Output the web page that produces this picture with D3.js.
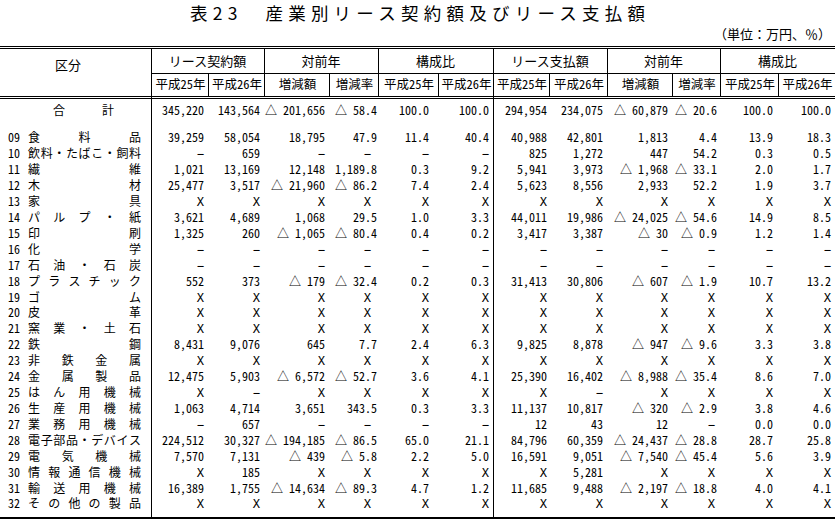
<!DOCTYPE html>
<html>
<head>
<meta charset="utf-8">
<title>表23 産業別リース契約額及びリース支払額</title>
<style>
  body { margin: 0; background: #fff; }
  svg text { font-family: "Noto Sans CJK JP", sans-serif; fill: #000; font-feature-settings: "hwid"; }
  .title { font-size: 17.5px; font-feature-settings: normal; }
  .unit { font-feature-settings: normal; }
  .head { font-size: 13px; }
  .sub { font-size: 12.5px; }
  .cell { font-size: 12px; }
  .mark { font-family: "DejaVu Sans Mono", monospace; font-size: 12px; }
  .rule { stroke: #000; stroke-width: 1; fill: none; }
</style>
</head>
<body>
<div id="table"></div>
<script src="https://cdn.jsdelivr.net/npm/d3@7"></script>
<script>
// --- data (万円, %) ; "X" = 秘匿, null = 該当なし (−), negative = △
const codes = ["09","10","11","12","13","14","15","16","17","18","19","20",
  "21","22","23","24","25","26","27","28","29","30","31","32"];
const industries = ["食料品","飲料・たばこ・飼料","繊維","木材","家具","パルプ・紙",
  "印刷","化学","石油・石炭","プラスチック","ゴム","皮革","窯業・土石","鉄鋼",
  "非鉄金属","金属製品","はん用機械","生産用機械","業務用機械","電子部品・デバイス",
  "電気機械","情報通信機械","輸送用機械","その他の製品"];

const groupLabels = ["リース契約額","対前年","構成比","リース支払額","対前年","構成比"];
const subLabels = ["平成25年","平成26年","増減額","増減率","平成25年","平成26年",
  "平成25年","平成26年","増減額","増減率","平成25年","平成26年"];

const totalValues = [345220, 143564, -201656, -58.4, 100.0, 100.0,
  294954, 234075, -60879, -20.6, 100.0, 100.0];

const contract2013 = [39259, null, 1021, 25477, "X", 3621, 1325, null, null, 552, "X", "X",
  "X", 8431, "X", 12475, "X", 1063, null, 224512, 7570, "X", 16389, "X"];
const contract2014 = [58054, 659, 13169, 3517, "X", 4689, 260, null, null, 373, "X", "X",
  "X", 9076, "X", 5903, null, 4714, 657, 30327, 7131, 185, 1755, "X"];
const contractDiff = [18795, null, 12148, -21960, "X", 1068, -1065, null, null, -179, "X", "X",
  "X", 645, "X", -6572, "X", 3651, null, -194185, -439, "X", -14634, "X"];
const contractRate = [47.9, null, 1189.8, -86.2, "X", 29.5, -80.4, null, null, -32.4, "X", "X",
  "X", 7.7, "X", -52.7, "X", 343.5, null, -86.5, -5.8, "X", -89.3, "X"];
const contractShare2013 = [11.4, null, 0.3, 7.4, "X", 1.0, 0.4, null, null, 0.2, "X", "X",
  "X", 2.4, "X", 3.6, "X", 0.3, null, 65.0, 2.2, "X", 4.7, "X"];
const contractShare2014 = [40.4, null, 9.2, 2.4, "X", 3.3, 0.2, null, null, 0.3, "X", "X",
  "X", 6.3, "X", 4.1, "X", 3.3, null, 21.1, 5.0, "X", 1.2, "X"];
const payment2013 = [40988, 825, 5941, 5623, "X", 44011, 3417, null, null, 31413, "X", "X",
  "X", 9825, "X", 25390, "X", 11137, 12, 84796, 16591, "X", 11685, "X"];
const payment2014 = [42801, 1272, 3973, 8556, "X", 19986, 3387, null, null, 30806, "X", "X",
  "X", 8878, "X", 16402, null, 10817, 43, 60359, 9051, 5281, 9488, "X"];
const paymentDiff = [1813, 447, -1968, 2933, "X", -24025, -30, null, null, -607, "X", "X",
  "X", -947, "X", -8988, "X", -320, 12, -24437, -7540, "X", -2197, "X"];
const paymentRate = [4.4, 54.2, -33.1, 52.2, "X", -54.6, -0.9, null, null, -1.9, "X", "X",
  "X", -9.6, "X", -35.4, "X", -2.9, null, -28.8, -45.4, "X", -18.8, "X"];
const paymentShare2013 = [13.9, 0.3, 2.0, 1.9, "X", 14.9, 1.2, null, null, 10.7, "X", "X",
  "X", 3.3, "X", 8.6, "X", 3.8, 0.0, 28.7, 5.6, "X", 4.0, "X"];
const paymentShare2014 = [18.3, 0.5, 1.7, 3.7, "X", 8.5, 1.4, null, null, 13.2, "X", "X",
  "X", 3.8, "X", 7.0, "X", 4.6, 0.0, 25.8, 3.9, "X", 4.1, "X"];

const columns = [
  { kind: "amt", values: contract2013 },
  { kind: "amt", values: contract2014 },
  { kind: "amt", values: contractDiff },
  { kind: "pct", values: contractRate },
  { kind: "pct", values: contractShare2013 },
  { kind: "pct", values: contractShare2014 },
  { kind: "amt", values: payment2013 },
  { kind: "amt", values: payment2014 },
  { kind: "amt", values: paymentDiff },
  { kind: "pct", values: paymentRate },
  { kind: "pct", values: paymentShare2013 },
  { kind: "pct", values: paymentShare2014 }
];

// --- layout
const width = 835, height = 525;
const edges = [151, 208, 264, 329, 378, 438, 493, 549, 607, 672, 720, 778, 835];
const rightEdges = [204, 260, 325, 377, 429, 489, 547, 603, 668, 717, 773, 831];
const markShift = [0, 0, 0, -6, 0, 0, 0, 0, 0, -2, 0, 0];
const dy = "0.37em";

const svg = d3.select("#table").append("svg")
  .attr("width", width).attr("height", height);

const y = d3.scalePoint().domain(codes).range([138, 504]);
const x = d3.scaleOrdinal().domain(d3.range(12)).range(rightEdges);

const fmtInt = d3.format(",");
const fmtPct = d3.format(",.1f");
function cellText(v, kind) {
  if (v === "X") return "X";
  if (v === null) return "−";
  const f = kind === "amt" ? fmtInt : fmtPct;
  return v < 0 ? "△ " + f(-v) : f(v);
}
const isMark = d => d === "X" || d === null;

// title + unit
svg.append("text").attr("class", "title")
  .attr("x", 190).attr("y", 14).attr("dy", dy)
  .attr("textLength", 455).attr("lengthAdjust", "spacing")
  .text("表23　産業別リース契約額及びリース支払額");

svg.append("text").attr("class", "head unit")
  .attr("x", 831).attr("y", 34).attr("dy", dy)
  .attr("text-anchor", "end")
  .text("（単位：万円、％）");

// rules
const hline = (yy, x0, x1, w) => svg.append("line").attr("class", "rule")
  .attr("x1", x0).attr("x2", x1).attr("y1", yy).attr("y2", yy)
  .style("stroke-width", w || 1);
const vline = (xx, y0, y1) => svg.append("line").attr("class", "rule")
  .attr("x1", xx).attr("x2", xx).attr("y1", y0).attr("y2", y1);

hline(46.5, 0, width);
hline(48.5, 0, width);
hline(73.5, 151, width);
hline(96.5, 0, width);
hline(98.5, 0, width);
hline(518, 0, width, 2);

vline(151.5, 48.5, 517);
vline(493.5, 48.5, 517);
[264, 378, 607, 720].forEach(e => vline(e + 0.5, 48.5, 96.5));
[208, 329, 438, 549, 672, 778].forEach(e => vline(e + 0.5, 73.5, 96.5));

// headers
svg.append("text").attr("class", "head")
  .attr("x", 68).attr("y", 65).attr("dy", dy)
  .attr("text-anchor", "middle")
  .text("区分");

svg.selectAll(".group").data(groupLabels).enter().append("text")
  .attr("class", "head group")
  .attr("x", (d, i) => (edges[i * 2] + edges[i * 2 + 2]) / 2)
  .attr("y", 61).attr("dy", dy)
  .attr("text-anchor", "middle")
  .text(d => d);

svg.selectAll(".sub").data(subLabels).enter().append("text")
  .attr("class", "head sub")
  .attr("x", (d, i) => (edges[i] + edges[i + 1]) / 2 + 1)
  .attr("y", 84).attr("dy", dy)
  .attr("text-anchor", "middle")
  .text(d => d);

// total row
const totalY = 111;
svg.append("text").attr("class", "cell").attr("x", 53).attr("y", totalY)
  .attr("dy", dy).text("合");
svg.append("text").attr("class", "cell").attr("x", 102).attr("y", totalY)
  .attr("dy", dy).text("計");
svg.selectAll(".total").data(totalValues).enter().append("text")
  .attr("class", "cell total")
  .attr("x", (d, i) => x(i)).attr("y", totalY).attr("dy", dy)
  .attr("text-anchor", "end")
  .text((d, i) => cellText(d, columns[i].kind));

// row labels: code + evenly spread name
const rowLabels = svg.selectAll(".rowlabel").data(codes).enter().append("g")
  .attr("class", "rowlabel")
  .attr("transform", d => `translate(0,${y(d)})`);
rowLabels.append("text").attr("class", "cell")
  .attr("x", 8).attr("dy", dy)
  .text(d => d);
rowLabels.each(function (d, i) {
  const chars = Array.from(industries[i]);
  const n = chars.length, left = 28, right = 129;
  const t = d3.select(this).append("text").attr("class", "cell").attr("dy", dy);
  chars.forEach((c, k) => {
    t.append("tspan").attr("x", left + k * (right - left) / (n - 1)).text(c);
  });
});

// body cells
columns.forEach((col, ci) => {
  svg.selectAll(".col" + ci).data(col.values).enter().append("text")
    .attr("class", d => "cell col" + ci + (isMark(d) ? " mark" : ""))
    .attr("x", d => x(ci) + (isMark(d) ? markShift[ci] : 0))
    .attr("y", (d, i) => y(codes[i])).attr("dy", dy)
    .attr("text-anchor", "end")
    .text(d => cellText(d, col.kind));
});
</script>
</body>
</html>
